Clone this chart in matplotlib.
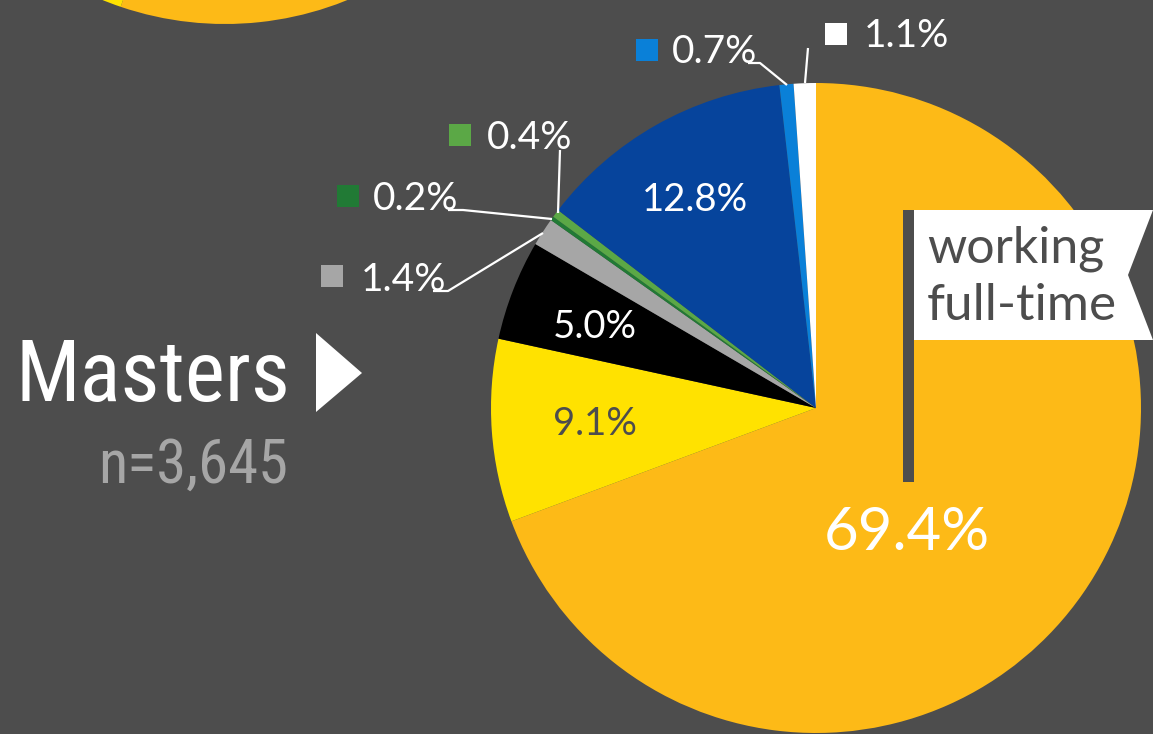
import matplotlib
matplotlib.use("Agg")
import matplotlib.pyplot as plt
from matplotlib.patches import Rectangle, Polygon

# ---------------- data ----------------
categories = ["working full-time", "cat2", "cat3", "cat4", "cat5", "cat6", "cat7", "cat8", "cat9"]
values = [69.4, 9.1, 5.0, 1.4, 0.2, 0.4, 12.8, 0.7, 1.1]
slice_colors = ["#FDBA17", "#FFE200", "#000000", "#A6A6A6", "#217A35",
                "#5BA846", "#06449C", "#0A80D8", "#FFFFFF"]
# neighbouring (cropped) pie at top-left: only two slices visible
top_values = [55.2, 9.0, 35.8]
top_colors = ["#FDBA17", "#FFE200", "#FDBA17"]
title = "Masters"
subtitle = "n=3,645"
flag_lines = ["working", "full-time"]

BG = "#4D4D4D"
W, H = 1153, 734

def P(x, y):
    return (x, H - y)

fig = plt.figure(figsize=(W / 100, H / 100), dpi=100, facecolor=BG)
ax = fig.add_axes([0, 0, 1, 1])
ax.set_facecolor(BG)

# cropped neighbour pie
ax.pie(top_values, colors=top_colors, startangle=90, counterclock=False,
       center=P(225, -301), radius=325, wedgeprops=dict(linewidth=0))

# main pie
ax.pie(values, colors=slice_colors, startangle=90, counterclock=False,
       center=P(816, 408), radius=325, wedgeprops=dict(linewidth=0))

ax.set_xlim(0, W)
ax.set_ylim(0, H)
ax.set_aspect("equal")
ax.axis("off")

PFONT = "Lato"
fmt = lambda v: f"{v:.1f}%"

# inside labels: index -> (left x, baseline y, size, color)
inside = {6: (642, 211, 27.5, "white"), 2: (553, 338, 27.5, "white"),
          1: (553, 435, 27.5, "#4D4D4D"), 0: (824, 550, 43, "white")}
for i, (x, y, s, c) in inside.items():
    ax.text(*P(x, y), fmt(values[i]), ha="left", va="baseline",
            fontsize=s, color=c, family=PFONT)

# outside labels with legend squares: index -> (square centre, text left, baseline)
outside = {7: ((647, 50), 672, 63), 8: ((836, 34), 864, 47),
           5: ((460, 135), 487, 149), 4: ((348, 196), 373, 210),
           3: ((332, 276), 361, 291)}
for i, ((sx, sy), tx, ty) in outside.items():
    ax.add_patch(Rectangle(P(sx - 11, sy + 11), 22, 22, color=slice_colors[i], lw=0))
    ax.text(*P(tx, ty), fmt(values[i]), ha="left", va="baseline",
            fontsize=28, color="white", family=PFONT)

# leader lines
leaders = [
    [(748, 63), (760, 63), (787, 85)],
    [(808, 48), (805, 83)],
    [(560, 150), (558, 213)],
    [(448, 210), (463, 210), (552, 219)],
    [(433, 291), (448, 291), (543, 233)],
]
for pts in leaders:
    xs = [p[0] for p in pts]
    ys = [H - p[1] for p in pts]
    ax.plot(xs, ys, color="white", lw=1.6, solid_capstyle="butt")

# flag
ax.add_patch(Rectangle(P(903, 482), 11, 272, color=BG, lw=0))
ax.add_patch(Polygon([P(914, 210), P(1153, 210), P(1128, 275), P(1153, 340), P(914, 340)],
                     closed=True, color="white", lw=0))
ax.text(*P(927, 262), flag_lines[0], ha="left", va="baseline", fontsize=36,
        color=BG, family=PFONT)
ax.text(*P(927, 320), flag_lines[1], ha="left", va="baseline", fontsize=37,
        color=BG, family=PFONT)

# title (fit to reference width with a condensed family if available)
NFONT = ["Roboto Condensed", "Open Sans Condensed", "Roboto"]
ax.add_patch(Polygon([P(316, 333), P(316, 412), P(362, 373)], closed=True,
                     color="white", lw=0))
t1 = ax.text(*P(288, 409), title, ha="right", va="baseline", fontsize=60,
             color="white", family=NFONT)
t2 = ax.text(*P(287, 488), subtitle, ha="right", va="baseline", fontsize=45,
             color="#A6A6A6", family=NFONT)

fig.canvas.draw()
r = fig.canvas.get_renderer()
for t, target_w, right, mid_y in [(t1, 275, 290, 371), (t2, 190, 288, 461)]:
    bb = t.get_window_extent(r)
    fs = t.get_fontsize() * target_w / bb.width
    fs = min(fs, 90)
    t.set_fontsize(fs)
    cap = fs * 100 / 72 * 0.71
    t.set_position(P(right, mid_y + cap / 2))
    t.set_ha("right")

fig.savefig("out.png", dpi=100, facecolor=BG)
